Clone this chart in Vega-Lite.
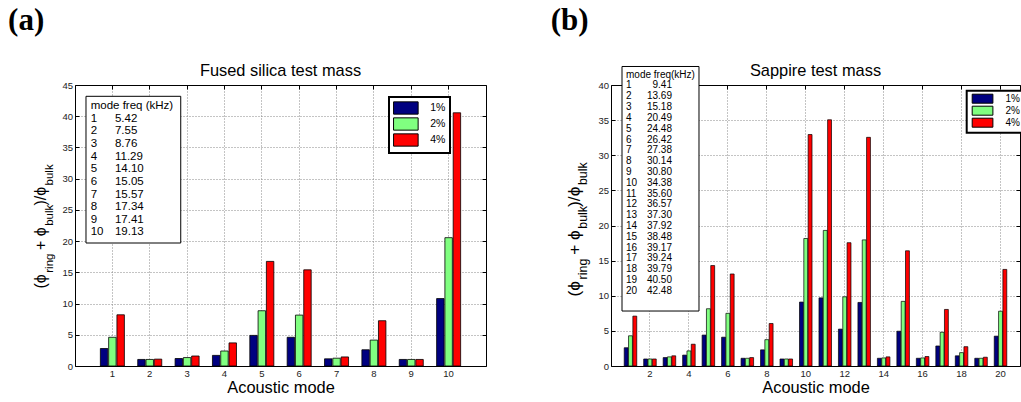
{
  "$schema": "https://vega.github.io/schema/vega-lite/v6.json",
  "background": "white",
  "padding": {"left": 8, "top": 4, "right": 0, "bottom": 0},
  "spacing": 125,
  "bounds": "flush",
  "datasets": {
    "fs": [
      {"m":1,"s":"1%","v":2.8},{"m":1,"s":"2%","v":4.6},{"m":1,"s":"4%","v":8.2},
      {"m":2,"s":"1%","v":1.05},{"m":2,"s":"2%","v":1.05},{"m":2,"s":"4%","v":1.1},
      {"m":3,"s":"1%","v":1.2},{"m":3,"s":"2%","v":1.35},{"m":3,"s":"4%","v":1.6},
      {"m":4,"s":"1%","v":1.7},{"m":4,"s":"2%","v":2.4},{"m":4,"s":"4%","v":3.7},
      {"m":5,"s":"1%","v":4.9},{"m":5,"s":"2%","v":8.85},{"m":5,"s":"4%","v":16.75},
      {"m":6,"s":"1%","v":4.6},{"m":6,"s":"2%","v":8.15},{"m":6,"s":"4%","v":15.4},
      {"m":7,"s":"1%","v":1.15},{"m":7,"s":"2%","v":1.25},{"m":7,"s":"4%","v":1.45},
      {"m":8,"s":"1%","v":2.6},{"m":8,"s":"2%","v":4.15},{"m":8,"s":"4%","v":7.25},
      {"m":9,"s":"1%","v":1.05},{"m":9,"s":"2%","v":1.05},{"m":9,"s":"4%","v":1.05},
      {"m":10,"s":"1%","v":10.8},{"m":10,"s":"2%","v":20.55},{"m":10,"s":"4%","v":40.55}
    ],
    "sa": [
      {"m":1,"s":"1%","v":2.6},{"m":1,"s":"2%","v":4.3},{"m":1,"s":"4%","v":7.1},
      {"m":2,"s":"1%","v":1.0},{"m":2,"s":"2%","v":1.0},{"m":2,"s":"4%","v":1.0},
      {"m":3,"s":"1%","v":1.2},{"m":3,"s":"2%","v":1.3},{"m":3,"s":"4%","v":1.45},
      {"m":4,"s":"1%","v":1.55},{"m":4,"s":"2%","v":2.15},{"m":4,"s":"4%","v":3.1},
      {"m":5,"s":"1%","v":4.4},{"m":5,"s":"2%","v":8.15},{"m":5,"s":"4%","v":14.3},
      {"m":6,"s":"1%","v":4.1},{"m":6,"s":"2%","v":7.5},{"m":6,"s":"4%","v":13.1},
      {"m":7,"s":"1%","v":1.1},{"m":7,"s":"2%","v":1.1},{"m":7,"s":"4%","v":1.2},
      {"m":8,"s":"1%","v":2.3},{"m":8,"s":"2%","v":3.75},{"m":8,"s":"4%","v":6.05},
      {"m":9,"s":"1%","v":1.0},{"m":9,"s":"2%","v":1.0},{"m":9,"s":"4%","v":1.0},
      {"m":10,"s":"1%","v":9.1},{"m":10,"s":"2%","v":18.15},{"m":10,"s":"4%","v":32.95},
      {"m":11,"s":"1%","v":9.7},{"m":11,"s":"2%","v":19.3},{"m":11,"s":"4%","v":35.05},
      {"m":12,"s":"1%","v":5.25},{"m":12,"s":"2%","v":9.85},{"m":12,"s":"4%","v":17.55},
      {"m":13,"s":"1%","v":9.05},{"m":13,"s":"2%","v":17.95},{"m":13,"s":"4%","v":32.55},
      {"m":14,"s":"1%","v":1.1},{"m":14,"s":"2%","v":1.15},{"m":14,"s":"4%","v":1.3},
      {"m":15,"s":"1%","v":4.95},{"m":15,"s":"2%","v":9.2},{"m":15,"s":"4%","v":16.4},
      {"m":16,"s":"1%","v":1.1},{"m":16,"s":"2%","v":1.15},{"m":16,"s":"4%","v":1.35},
      {"m":17,"s":"1%","v":2.85},{"m":17,"s":"2%","v":4.8},{"m":17,"s":"4%","v":8.05},
      {"m":18,"s":"1%","v":1.45},{"m":18,"s":"2%","v":1.9},{"m":18,"s":"4%","v":2.75},
      {"m":19,"s":"1%","v":1.1},{"m":19,"s":"2%","v":1.1},{"m":19,"s":"4%","v":1.25},
      {"m":20,"s":"1%","v":4.25},{"m":20,"s":"2%","v":7.8},{"m":20,"s":"4%","v":13.75}
    ],
    "fsTab": [
      {"r":0,"m":"mode freq (kHz)","f":""},
      {"r":1,"m":"1","f":"5.42"},{"r":2,"m":"2","f":"7.55"},{"r":3,"m":"3","f":"8.76"},
      {"r":4,"m":"4","f":"11.29"},{"r":5,"m":"5","f":"14.10"},{"r":6,"m":"6","f":"15.05"},
      {"r":7,"m":"7","f":"15.57"},{"r":8,"m":"8","f":"17.34"},{"r":9,"m":"9","f":"17.41"},
      {"r":10,"m":"10","f":"19.13"}
    ],
    "saTab": [
      {"r":0,"m":"mode freq(kHz)","f":""},
      {"r":1,"m":"1","f":"9.41"},{"r":2,"m":"2","f":"13.69"},{"r":3,"m":"3","f":"15.18"},
      {"r":4,"m":"4","f":"20.49"},{"r":5,"m":"5","f":"24.48"},{"r":6,"m":"6","f":"26.42"},
      {"r":7,"m":"7","f":"27.38"},{"r":8,"m":"8","f":"30.14"},{"r":9,"m":"9","f":"30.80"},
      {"r":10,"m":"10","f":"34.38"},{"r":11,"m":"11","f":"35.60"},{"r":12,"m":"12","f":"36.57"},
      {"r":13,"m":"13","f":"37.30"},{"r":14,"m":"14","f":"37.92"},{"r":15,"m":"15","f":"38.48"},
      {"r":16,"m":"16","f":"39.17"},{"r":17,"m":"17","f":"39.24"},{"r":18,"m":"18","f":"39.79"},
      {"r":19,"m":"19","f":"40.50"},{"r":20,"m":"20","f":"42.48"}
    ]
  },
  "config": {
    "view": {"stroke": null},
    "font": "Liberation Sans",
    "axis": {
      "labelFont": "Liberation Sans", "labelFontSize": 9.5, "labelColor": "#222",
      "tickColor": "black", "tickSize": -4, "tickWidth": 1,
      "domainColor": "black", "domainWidth": 1,
      "gridColor": "#888", "gridDash": [1, 2], "gridWidth": 1,
      "labelPadding": 6.5,
      "titleFont": "Liberation Sans", "titleFontSize": 16.4, "titleFontWeight": "normal", "titleColor": "black"
    },
    "legend": {"strokeWidth": 2}
  },
  "resolve": {"scale": {"color": "independent", "x": "independent", "y": "independent", "xOffset": "independent"}, "legend": {"color": "independent"}},
  "hconcat": [
    {
      "width": 411, "height": 281,
      "resolve": {"scale": {"x": "independent", "y": "independent"}},
      "layer": [
        {
          "data": {"name": "fs"},
          "layer": [
            {
              "mark": {"type": "bar", "stroke": "black", "strokeWidth": 0.8},
              "encoding": {
                "x": {"field": "m", "type": "ordinal", "scale": {"paddingInner": 0.357, "paddingOuter": 0.679},
                      "axis": {"orient": "bottom", "title": "Acoustic mode", "labelAngle": 0, "grid": true, "bandPosition": 0.5, "titlePadding": 1}},
                "xOffset": {"field": "s", "type": "nominal", "scale": {"paddingInner": 0.1, "paddingOuter": 0}},
                "y": {"field": "v", "type": "quantitative", "scale": {"domain": [0, 45], "nice": false, "zero": true},
                      "axis": {"orient": "left", "title": null, "grid": true, "values": [0,5,10,15,20,25,30,35,40,45]}},
                "color": {"field": "s", "type": "nominal",
                          "scale": {"domain": ["1%", "2%", "4%"], "range": ["#000080", "#80ff80", "#ff0000"]},
                          "legend": {"orient": "none", "legendX": 314, "legendY": 12, "title": null,
                                     "symbolType": "M-2,-1H2V1H-2Z", "symbolSize": 151,
                                     "symbolStrokeColor": "black", "symbolStrokeWidth": 1,
                                     "symbolOffset": 5.85, "labelOffset": 17.4,
                                     "labelFont": "Liberation Sans", "labelFontSize": 10.5, "labelColor": "black",
                                     "rowPadding": -2.4, "padding": 4, "fillColor": "white", "strokeColor": "black"}}
              }
            },
            {
              "mark": {"type": "point", "opacity": 0},
              "encoding": {
                "x": {"field": "m", "type": "ordinal", "axis": {"orient": "top", "labels": false, "title": null, "grid": false, "bandPosition": 0.5}},
                "y": {"field": "v", "type": "quantitative", "axis": {"orient": "right", "labels": false, "title": null, "grid": false, "values": [0,5,10,15,20,25,30,35,40,45]}}
              }
            }
          ]
        },
        {
          "layer": [
            {
              "data": {"values": [{}]},
              "mark": {"type": "rect", "fill": "white", "stroke": "black", "strokeWidth": 1},
              "encoding": {
                "x": {"datum": 0.294, "type": "quantitative", "scale": {"domain": [0, 11], "nice": false, "zero": false}, "axis": null},
                "x2": {"datum": 2.83},
                "y": {"datum": -0.793, "type": "quantitative", "scale": {"domain": [-1.69, 20.61], "nice": false, "zero": false, "reverse": true}, "axis": null},
                "y2": {"datum": 10.85}
              }
            },
            {
              "data": {"name": "fsTab"},
              "mark": {"type": "text", "align": "left", "baseline": "middle", "fontSize": 11.5, "font": "Liberation Sans", "color": "black"},
              "encoding": {
                "x": {"datum": 0.42, "type": "quantitative", "axis": null},
                "y": {"field": "r", "type": "quantitative", "axis": null},
                "text": {"field": "m"}
              }
            },
            {
              "data": {"name": "fsTab"},
              "mark": {"type": "text", "align": "left", "baseline": "middle", "fontSize": 11.5, "font": "Liberation Sans", "color": "black"},
              "encoding": {
                "x": {"datum": 1.07, "type": "quantitative", "axis": null},
                "y": {"field": "r", "type": "quantitative", "axis": null},
                "text": {"field": "f"}
              }
            },
            {
              "data": {"values": [{}]},
              "mark": {"type": "text", "text": "Fused silica test mass", "align": "center", "baseline": "alphabetic", "fontSize": 16.4, "font": "Liberation Sans", "color": "black"},
              "encoding": {"x": {"datum": 5.5, "type": "quantitative", "axis": null}, "y": {"datum": -2.404, "type": "quantitative", "axis": null}}
            },
            {
              "data": {"values": [{}]},
              "mark": {"type": "text", "text": "(a)", "align": "left", "baseline": "alphabetic", "fontSize": 31, "fontWeight": "bold", "font": "Liberation Serif", "color": "black"},
              "encoding": {"x": {"datum": -1.79, "type": "quantitative", "axis": null}, "y": {"datum": -6.055, "type": "quantitative", "axis": null}}
            },
            {
              "data": {"values": [{}]},
              "mark": {"type": "text", "text": "(ϕ", "angle": 270, "align": "left", "baseline": "alphabetic", "fontSize": 16, "font": "Liberation Sans", "color": "black"},
              "encoding": {"x": {"datum": -0.776, "type": "quantitative", "axis": null}, "y": {"datum": 14.46, "type": "quantitative", "axis": null}}
            },
            {
              "data": {"values": [{}]},
              "mark": {"type": "text", "text": "ring", "angle": 270, "align": "left", "baseline": "alphabetic", "fontSize": 11.5, "font": "Liberation Sans", "color": "black"},
              "encoding": {"x": {"datum": -0.589, "type": "quantitative", "axis": null}, "y": {"datum": 13.21, "type": "quantitative", "axis": null}}
            },
            {
              "data": {"values": [{}]},
              "mark": {"type": "text", "text": "+ ϕ", "angle": 270, "align": "left", "baseline": "alphabetic", "fontSize": 16, "font": "Liberation Sans", "color": "black"},
              "encoding": {"x": {"datum": -0.776, "type": "quantitative", "axis": null}, "y": {"datum": 11.405, "type": "quantitative", "axis": null}}
            },
            {
              "data": {"values": [{}]},
              "mark": {"type": "text", "text": "bulk", "angle": 270, "align": "left", "baseline": "alphabetic", "fontSize": 11.5, "font": "Liberation Sans", "color": "black"},
              "encoding": {"x": {"datum": -0.589, "type": "quantitative", "axis": null}, "y": {"datum": 9.485, "type": "quantitative", "axis": null}}
            },
            {
              "data": {"values": [{}]},
              "mark": {"type": "text", "text": ")/ϕ", "angle": 270, "align": "left", "baseline": "alphabetic", "fontSize": 16, "font": "Liberation Sans", "color": "black"},
              "encoding": {"x": {"datum": -0.776, "type": "quantitative", "axis": null}, "y": {"datum": 7.88, "type": "quantitative", "axis": null}}
            },
            {
              "data": {"values": [{}]},
              "mark": {"type": "text", "text": "bulk", "angle": 270, "align": "left", "baseline": "alphabetic", "fontSize": 11.5, "font": "Liberation Sans", "color": "black"},
              "encoding": {"x": {"datum": -0.589, "type": "quantitative", "axis": null}, "y": {"datum": 6.28, "type": "quantitative", "axis": null}}
            }
          ]
        }
      ]
    },
    {
      "width": 409, "height": 281,
      "resolve": {"scale": {"x": "independent", "y": "independent"}},
      "layer": [
        {
          "data": {"name": "sa"},
          "layer": [
            {
              "mark": {"type": "bar", "stroke": "black", "strokeWidth": 0.7},
              "encoding": {
                "x": {"field": "m", "type": "ordinal", "scale": {"paddingInner": 0.357, "paddingOuter": 0.679},
                      "axis": {"orient": "bottom", "title": "Acoustic mode", "labelAngle": 0, "grid": true, "bandPosition": 0.5, "titlePadding": 1,
                               "values": [2,4,6,8,10,12,14,16,18,20]}},
                "xOffset": {"field": "s", "type": "nominal", "scale": {"paddingInner": 0.1, "paddingOuter": 0}},
                "y": {"field": "v", "type": "quantitative", "scale": {"domain": [0, 40], "nice": false, "zero": true},
                      "axis": {"orient": "left", "title": null, "grid": true, "values": [0,5,10,15,20,25,30,35,40]}},
                "color": {"field": "s", "type": "nominal",
                          "scale": {"domain": ["1%", "2%", "4%"], "range": ["#000080", "#80ff80", "#ff0000"]},
                          "legend": {"orient": "none", "legendX": 355.7, "legendY": 5.7, "title": null,
                                     "symbolType": "M-2.3,-1H2.3V1H-2.3Z", "symbolSize": 81,
                                     "symbolStrokeColor": "black", "symbolStrokeWidth": 1,
                                     "symbolOffset": 7.85, "labelOffset": 18,
                                     "labelFont": "Liberation Sans", "labelFontSize": 10, "labelColor": "black",
                                     "rowPadding": -2, "padding": 3, "fillColor": "white", "strokeColor": "black"}}
              }
            },
            {
              "mark": {"type": "point", "opacity": 0},
              "encoding": {
                "x": {"field": "m", "type": "ordinal", "axis": {"orient": "top", "labels": false, "title": null, "grid": false, "bandPosition": 0.5, "values": [2,4,6,8,10,12,14,16,18,20]}},
                "y": {"field": "v", "type": "quantitative", "axis": {"orient": "right", "labels": false, "title": null, "grid": false, "values": [0,5,10,15,20,25,30,35,40]}}
              }
            }
          ]
        },
        {
          "layer": [
            {
              "data": {"values": [{}]},
              "mark": {"type": "rect", "fill": "white", "stroke": "black", "strokeWidth": 1},
              "encoding": {
                "x": {"datum": 0.565, "type": "quantitative", "scale": {"domain": [0, 21], "nice": false, "zero": false}, "axis": null},
                "x2": {"datum": 4.518},
                "y": {"datum": -0.759, "type": "quantitative", "scale": {"domain": [0.954, 26.97], "nice": false, "zero": false, "reverse": true}, "axis": null},
                "y2": {"datum": 21.88}
              }
            },
            {
              "data": {"name": "saTab"},
              "mark": {"type": "text", "align": "left", "baseline": "middle", "fontSize": 10, "font": "Liberation Sans", "color": "black"},
              "encoding": {
                "x": {"datum": 0.77, "type": "quantitative", "axis": null},
                "y": {"field": "r", "type": "quantitative", "axis": null},
                "text": {"field": "m"}
              }
            },
            {
              "data": {"name": "saTab"},
              "mark": {"type": "text", "align": "right", "baseline": "middle", "fontSize": 10, "font": "Liberation Sans", "color": "black"},
              "encoding": {
                "x": {"datum": 3.13, "type": "quantitative", "axis": null},
                "y": {"field": "r", "type": "quantitative", "axis": null},
                "text": {"field": "f"}
              }
            },
            {
              "data": {"values": [{}]},
              "mark": {"type": "text", "text": "Sappire test mass", "align": "center", "baseline": "alphabetic", "fontSize": 16.4, "font": "Liberation Sans", "color": "black"},
              "encoding": {"x": {"datum": 10.5, "type": "quantitative", "axis": null}, "y": {"datum": 0.121, "type": "quantitative", "axis": null}}
            },
            {
              "data": {"values": [{}]},
              "mark": {"type": "text", "text": "(b)", "align": "left", "baseline": "alphabetic", "fontSize": 31, "fontWeight": "bold", "font": "Liberation Serif", "color": "black"},
              "encoding": {"x": {"datum": -3.096, "type": "quantitative", "axis": null}, "y": {"datum": -4.139, "type": "quantitative", "axis": null}}
            },
            {
              "data": {"values": [{}]},
              "mark": {"type": "text", "text": "(ϕ", "angle": 270, "align": "left", "baseline": "alphabetic", "fontSize": 17.3, "font": "Liberation Sans", "color": "black"},
              "encoding": {"x": {"datum": -1.592, "type": "quantitative", "axis": null}, "y": {"datum": 20.54, "type": "quantitative", "axis": null}}
            },
            {
              "data": {"values": [{}]},
              "mark": {"type": "text", "text": "ring", "angle": 270, "align": "left", "baseline": "alphabetic", "fontSize": 12.4, "font": "Liberation Sans", "color": "black"},
              "encoding": {"x": {"datum": -1.232, "type": "quantitative", "axis": null}, "y": {"datum": 18.95, "type": "quantitative", "axis": null}}
            },
            {
              "data": {"values": [{}]},
              "mark": {"type": "text", "text": "+ ϕ", "angle": 270, "align": "left", "baseline": "alphabetic", "fontSize": 17.3, "font": "Liberation Sans", "color": "black"},
              "encoding": {"x": {"datum": -1.592, "type": "quantitative", "axis": null}, "y": {"datum": 16.68, "type": "quantitative", "axis": null}}
            },
            {
              "data": {"values": [{}]},
              "mark": {"type": "text", "text": "bulk", "angle": 270, "align": "left", "baseline": "alphabetic", "fontSize": 12.4, "font": "Liberation Sans", "color": "black"},
              "encoding": {"x": {"datum": -1.232, "type": "quantitative", "axis": null}, "y": {"datum": 14.26, "type": "quantitative", "axis": null}}
            },
            {
              "data": {"values": [{}]},
              "mark": {"type": "text", "text": ")/ϕ", "angle": 270, "align": "left", "baseline": "alphabetic", "fontSize": 17.3, "font": "Liberation Sans", "color": "black"},
              "encoding": {"x": {"datum": -1.592, "type": "quantitative", "axis": null}, "y": {"datum": 12.24, "type": "quantitative", "axis": null}}
            },
            {
              "data": {"values": [{}]},
              "mark": {"type": "text", "text": "bulk", "angle": 270, "align": "left", "baseline": "alphabetic", "fontSize": 12.4, "font": "Liberation Sans", "color": "black"},
              "encoding": {"x": {"datum": -1.232, "type": "quantitative", "axis": null}, "y": {"datum": 10.22, "type": "quantitative", "axis": null}}
            }
          ]
        }
      ]
    }
  ]
}
